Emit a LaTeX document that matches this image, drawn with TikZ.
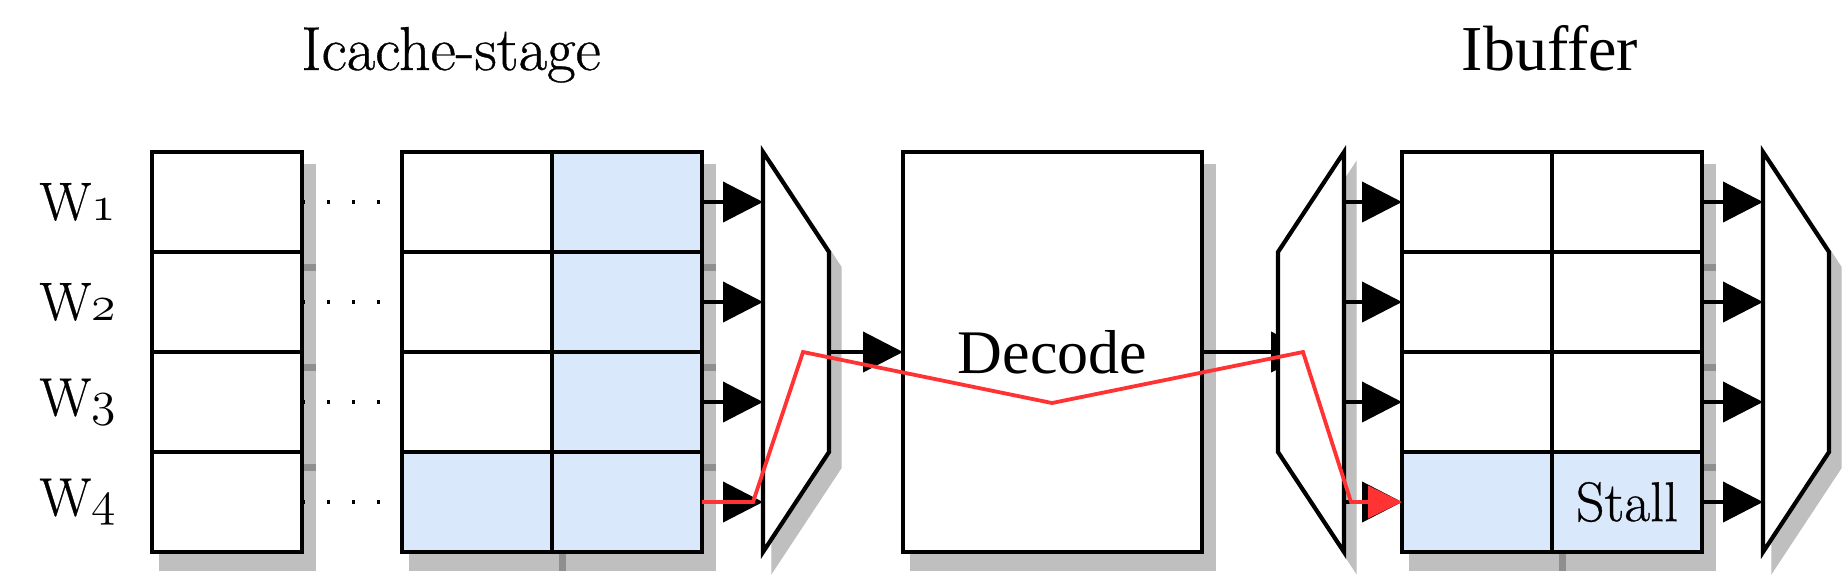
\documentclass[tikz,border=0pt]{standalone}
\usepackage{fontspec}
\newfontfamily\timesfont{Liberation Serif}
\newfontfamily\heavyserif{Latin Modern Roman}[FakeBold=0.6]
\usetikzlibrary{arrows.meta,positioning,backgrounds,calc}

\definecolor{cellblue}{HTML}{DAE8FC}
\definecolor{pathred}{HTML}{FF3333}
\definecolor{shadowgray}{HTML}{BFBFBF}

% old style figures for the way labels
\newcommand{\osf}[1]{{\usefont{OML}{lmm}{m}{it}#1}}
% shadow of a cell, stroke included
\newcommand{\castshadow}[1]{\fill[black,opacity=.25] ([shift={(3.45pt,-9.55pt)}]#1.south west) rectangle ([shift={(7.05pt,-5.95pt)}]#1.north east);}

\tikzset{
  cell/.style={draw,line width=2.1pt,fill=white,minimum width=75pt,minimum height=50pt,inner sep=0pt,outer sep=0pt},
  wlabel/.style={font=\heavyserif\fontsize{27}{32}\selectfont,inner sep=0pt},
  title/.style={font=\heavyserif\fontsize{31}{36}\selectfont,anchor=base,inner sep=0pt},
  muxshape/.style={draw,line width=2.1pt,fill=white,line join=miter},
  muxshadow/.style={fill=shadowgray,draw=shadowgray,line width=2.1pt,line join=miter,shift={(5.25pt,-7.75pt)}},
  link/.style={line width=2.1pt,-{Triangle[length=20pt,width=20pt]}},
  gapdots/.style={line width=1.75pt,dash pattern=on 1.6pt off 10.9pt},
  hold/.style={line width=1.9pt,draw=pathred,line join=miter,-{Triangle[length=17pt,width=16pt,fill=pathred]}},
}

\begin{document}
\begin{tikzpicture}[x=0.5pt,y=-0.5pt]
	\useasboundingbox (0,0) rectangle (1845,575);
	
	% titles
	\node[title] (ictitle) at (451,70) {Icache-stage};
	\node[title,font=\timesfont\fontsize{32}{38}\selectfont] (ibtitle) at (1550,70) {Ibuffer};
	
	% icache ways and ibuffer entries
	\foreach \i/\c/\t in {1/white/,2/white/,3/white/,4/cellblue/Stall} {
		\node[cell] (b1-\i) at (227,{102+100*\i}) {};
		\node[cell,fill=\c] (b2a-\i) at (477,{102+100*\i}) {};
		\node[cell,fill=cellblue] (b2b-\i) at (627,{102+100*\i}) {};
		\node[cell,fill=\c] (ibA-\i) at (1477,{102+100*\i}) {};
		\node[cell,fill=\c,font=\heavyserif\fontsize{28}{34}\selectfont] (ibB-\i) at (1627,{102+100*\i}) {\t};
		\node[wlabel,left=18pt of b1-\i.west] (w-\i) {W\osf{\i}};
	}
	\node[cell,minimum width=149.5pt,minimum height=200pt,font=\timesfont\fontsize{31}{37}\selectfont] (dec) at (1052.5,352) {Decode};
	
	% mux ends
	\coordinate (m1w) at (763,352);
	\coordinate (m1e) at (829,352);
	\coordinate (m2) at (1311,352);
	\coordinate (m2e) at (1344,352);
	\coordinate (m3w) at (1763,352);
	
	\begin{pgfonlayer}{background}
		\foreach \i in {1,...,4} {
			\foreach \n in {b1,b2a,b2b,ibA,ibB} {\castshadow{\n-\i}}
		}
		\castshadow{dec}
		\path[muxshadow] (763,152) -- (829,252) -- (829,452) -- (763,552) -- cycle;
		\path[muxshadow] (1344,152) -- (1278,252) -- (1278,452) -- (1344,552) -- cycle;
		\path[muxshadow] (1763,152) -- (1829,252) -- (1829,452) -- (1763,552) -- cycle;
	\end{pgfonlayer}
	
	% connectors
	\foreach \i in {1,...,4} {
		\draw[gapdots] (b1-\i.east) -- (b2a-\i.west);
		\draw[link] (b2b-\i.east) -- (b2b-\i.east -| m1w);
		\draw[link] (m2e |- ibA-\i.west) -- (ibA-\i.west);
		\draw[link] (ibB-\i.east) -- (ibB-\i.east -| m3w);
	}
	\draw[link] (m1e) -- (dec.west);
	\draw[link] (dec.east) -- (m2);
	
	% muxes
	\draw[muxshape] (763,152) -- (829,252) -- (829,452) -- (763,552) -- cycle;
	\draw[muxshape] (1344,152) -- (1278,252) -- (1278,452) -- (1344,552) -- cycle;
	\draw[muxshape] (1763,152) -- (1829,252) -- (1829,452) -- (1763,552) -- cycle;
	
	% stalled instruction
	\draw[hold] (b2b-4.east) -- (753,502) -- (803,352) -- (1052,403) -- (1303,352) -- (1351,502) -- (ibA-4.west);
\end{tikzpicture}
\end{document}
